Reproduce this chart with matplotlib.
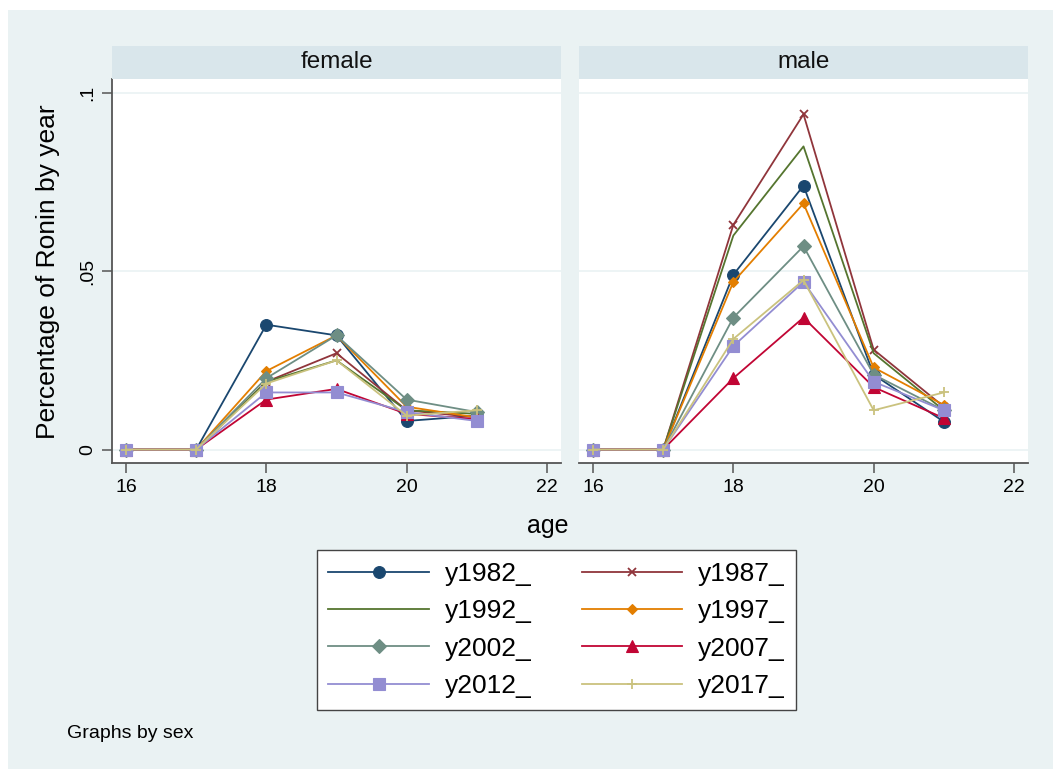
import matplotlib
matplotlib.use('Agg')
import matplotlib.pyplot as plt
from matplotlib.patches import Rectangle

plt.rcParams['font.family'] = ['Liberation Sans', 'DejaVu Sans']

# data
AGES = [16, 17, 18, 19, 20, 21]
SERIES = ['y1982_', 'y1987_', 'y1992_', 'y1997_', 'y2002_', 'y2007_', 'y2012_', 'y2017_']

female_1982 = [0, 0, 0.035, 0.032, 0.008, 0.0095]
female_1987 = [0, 0, 0.019, 0.027, 0.011, 0.009]
female_1992 = [0, 0, 0.019, 0.025, 0.011, 0.010]
female_1997 = [0, 0, 0.022, 0.032, 0.012, 0.009]
female_2002 = [0, 0, 0.020, 0.032, 0.014, 0.0105]
female_2007 = [0, 0, 0.014, 0.017, 0.010, 0.0085]
female_2012 = [0, 0, 0.016, 0.016, 0.0105, 0.008]
female_2017 = [0, 0, 0.0185, 0.025, 0.0095, 0.011]

male_1982 = [0, 0, 0.049, 0.074, 0.021, 0.0078]
male_1987 = [0, 0, 0.063, 0.094, 0.028, 0.012]
male_1992 = [0, 0, 0.060, 0.085, 0.027, 0.011]
male_1997 = [0, 0, 0.047, 0.069, 0.023, 0.0125]
male_2002 = [0, 0, 0.037, 0.057, 0.021, 0.011]
male_2007 = [0, 0, 0.020, 0.037, 0.0175, 0.0088]
male_2012 = [0, 0, 0.029, 0.047, 0.019, 0.011]
male_2017 = [0, 0, 0.031, 0.0475, 0.011, 0.016]

female = [female_1982, female_1987, female_1992, female_1997,
          female_2002, female_2007, female_2012, female_2017]
male = [male_1982, male_1987, male_1992, male_1997,
        male_2002, male_2007, male_2012, male_2017]

# stata s2color look
colors = ['#1a476f', '#90353b', '#55752f', '#e37e00',
          '#6e8e84', '#c10534', '#938dd2', '#cac27e']
markers = ['o', 'x', None, 'D', 'D', '^', 's', '+']
msizes = [8.5, 5.5, 0, 5, 7, 8, 8, 7.5]

W, H = 1053, 769
fig = plt.figure(figsize=(W / 100, H / 100), dpi=100, facecolor='white')
fig.patches.append(Rectangle((8 / W, 0), 1, 1 - 10 / H, transform=fig.transFigure,
                             facecolor='#eaf2f3', edgecolor='none', zorder=-10))

bottom = 1 - 462.7 / H
top = 1 - 79 / H
panels = [('female', 112, 561, female), ('male', 579, 1028, male)]
axes = []
for i, (name, x0, x1, data) in enumerate(panels):
    ax = fig.add_axes([x0 / W, bottom, (x1 - x0) / W, top - bottom])
    axes.append(ax)
    # strip header
    fig.patches.append(Rectangle((x0 / W, top), (x1 - x0) / W, 33 / H,
                                 transform=fig.transFigure, facecolor='#d9e6eb',
                                 edgecolor='none'))
    fig.text((x0 + x1) / 2 / W, top + 16.5 / H, name, ha='center', va='center',
             fontsize=17.5, color='#111111')

    for vals, lab, c, m, ms in zip(data, SERIES, colors, markers, msizes):
        ax.plot(AGES, vals, color=c, lw=1.3, marker=m, markersize=ms,
                markeredgewidth=1.3 if m in ('x', '+') else 0.8, label=lab)

    ax.set_xlim(15.8, 22.2)
    ax.set_ylim(-0.0037, 0.1039)
    ax.set_xticks([16, 18, 20, 22])
    ax.set_yticks([0, 0.05, 0.1])
    ax.grid(axis='y', color='#eaf2f3', lw=1.2)
    ax.set_axisbelow(True)
    for s in ['top', 'right']:
        ax.spines[s].set_visible(False)
    ax.spines['bottom'].set_color('#555555')
    ax.spines['bottom'].set_linewidth(1.3)
    ax.tick_params(axis='x', length=7.5, width=1.1, color='#555555',
                   labelsize=14, pad=4)
    if i == 0:
        ax.spines['left'].set_color('#555555')
        ax.spines['left'].set_linewidth(1.3)
        ax.set_yticklabels(['0', '.05', '.1'], rotation=90, va='center')
        ax.tick_params(axis='y', length=7.5, width=1.1, color='#555555',
                       labelsize=14, pad=4)
    else:
        ax.spines['left'].set_visible(False)
        ax.tick_params(axis='y', length=0, labelleft=False)

fig.text(48 / W, 1 - 272 / H, 'Percentage of Ronin by year', rotation=90,
         ha='center', va='center', fontsize=19)
fig.text(548 / W, 1 - 526 / H, 'age', ha='center', va='center', fontsize=18)
fig.text(67 / W, 1 - 733 / H, 'Graphs by sex', ha='left', va='center', fontsize=14)

# legend filled row by row, like stata
handles, labels = axes[0].get_legend_handles_labels()
order = [0, 2, 4, 6, 1, 3, 5, 7]
leg = fig.legend([handles[k] for k in order], [labels[k] for k in order],
                 ncol=2, loc='center',
                 bbox_to_anchor=(556.5 / W, 1 - 630 / H), fontsize=19,
                 frameon=True, fancybox=False, framealpha=1, edgecolor='#444444',
                 handlelength=3.8, handletextpad=0.6, columnspacing=1.9,
                 labelspacing=0.5, borderpad=0.45)
leg.get_frame().set_linewidth(1.0)

fig.savefig('out.png', dpi=100, facecolor=fig.get_facecolor())
